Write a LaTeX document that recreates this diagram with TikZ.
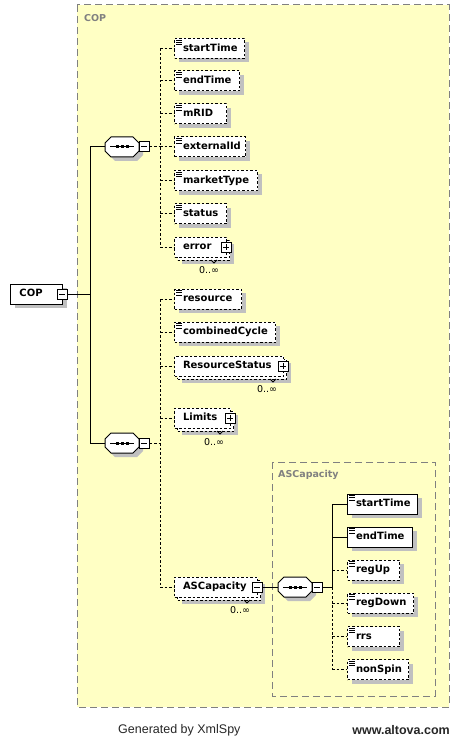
\documentclass[tikz,border=0pt]{standalone}
\usepackage{fontspec}
\newfontfamily\dv{DejaVu Sans}
\newfontfamily\lib{Liberation Sans}
\usetikzlibrary{shadows,calc}
\definecolor{bgy}{RGB}{255,255,196}
\definecolor{shg}{RGB}{192,192,192}
\definecolor{dg}{RGB}{128,128,128}
\tikzset{
  dsh/.style={dash pattern=on 2.5pt off 2pt},
  conn/.style={line width=1pt},
  grpbox/.style={draw=dg, fill=bgy, line width=1pt, dash pattern=on 7pt off 4pt},
  grplabel/.style={text=dg, font=\dv\bfseries\fontsize{9.5}{11}\selectfont, anchor=west, inner sep=0pt},
  base/.style={draw=black, fill=white, line width=1pt, inner xsep=0pt, inner ysep=0pt,
    minimum height=20pt, anchor=west, align=left, text height=7.5pt, text depth=2pt,
    font=\dv\bfseries\fontsize{10}{11}\selectfont},
  sh4/.style={drop shadow={shadow xshift=4pt, shadow yshift=-4pt, fill=shg, opacity=1, draw=none}},
  icon/.style={path picture={
      \foreach \k in {1.5,3.75,6}
        \draw[solid, line width=.8pt] ([xshift=1.5pt,yshift=-\k pt]path picture bounding box.north west) -- ++(5.5pt,0pt);}},
  reqel/.style={base, solid, sh4, icon, text width=#1},
  optel/.style={base, dsh, sh4, icon, text width=#1},
  multiel/.style={base, dsh, text width=#1,
    drop shadow={shadow xshift=7pt, shadow yshift=-7pt, fill=shg, opacity=1, draw=none},
    copy shadow={shadow xshift=3pt, shadow yshift=-3pt, draw=black, fill=white}},
  pmbox/.style={draw=black, solid, fill=white, line width=1pt, minimum size=10pt, inner sep=0pt},
  minusbox/.style={pmbox, path picture={
      \draw[solid, line width=1pt] ([xshift=2pt]path picture bounding box.west) -- ([xshift=-2pt]path picture bounding box.east);}},
  plusbox/.style={pmbox, path picture={
      \draw[solid, line width=1pt] ([xshift=2pt]path picture bounding box.west) -- ([xshift=-2pt]path picture bounding box.east);
      \draw[solid, line width=1pt] ([yshift=-2pt]path picture bounding box.north) -- ([yshift=2pt]path picture bounding box.south);}},
  occ/.style={font=\dv\fontsize{9.5}{11}\selectfont, inner sep=0pt},
  seqhold/.style={minimum width=34pt, minimum height=20pt, inner sep=0pt},
}
\newcommand\seqq[3]{%
  \node[seqhold] (#1) at (#2,#3) {};
  \begin{scope}[shift={(#2,#3)}]
    \fill[shg] (-13,0) -- (-7,-6) -- (15,-6) -- (21,0) -- (21,8) -- (15,14) -- (-7,14) -- (-13,8) -- cycle;
    \draw[line width=1pt, fill=white] (-17,-4) -- (-11,-10) -- (11,-10) -- (17,-4) -- (17,4) -- (11,10) -- (-11,10) -- (-17,4) -- cycle;
    \draw[line width=1pt] (-12,0) -- (12,0);
    \fill (-6.5,-1.5) rectangle ++(3,3);
    \fill (-1.5,-1.5) rectangle ++(3,3);
    \fill (3.5,-1.5) rectangle ++(3,3);
  \end{scope}
  \node[minusbox] (#1m) at (#2+22,#3) {};
}
\newcommand\notch[2]{\draw[line width=.8pt] (#1-3,#2) -- (#1,#2+3) -- (#1+3,#2);}
\begin{document}
\begin{tikzpicture}[x=1pt, y=-1pt]
\useasboundingbox (0,0) rectangle (459,738);
% group boxes
\draw[grpbox] (77,5) rectangle (449,707);
\node[grplabel] (coplab) at (84,18) {COP};
\draw[grpbox] (272,462) rectangle (435,696);
\node[grplabel] (asclab) at (278,475) {ASCapacity};

% root
\node[base, solid, sh4, text width=52pt] (cop) at (10,294) {\hspace*{9pt}COP};
\node[minusbox] (copm) at (62,294) {};

% sequences
\seqq{s1}{122}{147}
\seqq{s2}{122}{443}
\seqq{s3}{295}{587}

\coordinate (tj) at (90,294);
\coordinate (v1) at (160,147);
\coordinate (v3) at (332,587);

% seq1 children
\node[optel=70pt] (st1) at (174,48.5) {\hspace*{8.5pt}startTime};
\node[optel=65pt] (et1) at (174,81) {\hspace*{8.5pt}endTime};
\node[optel=52pt] (mrid) at (174,114) {\hspace*{8.5pt}mRID};
\node[optel=71pt] (extid) at (174,147) {\hspace*{8.5pt}externalId};
\node[optel=83pt] (mkt) at (174,180.5) {\hspace*{8.5pt}marketType};
\node[optel=52pt] (stat) at (174,213.5) {\hspace*{8.5pt}status};
\node[multiel=52pt] (err) at (174,247) {\hspace*{8.5pt}error};
\node[plusbox] (errp) at ([xshift=-1pt]err.east) {};
\node[occ] (erro) at (209,270) {0..∞};
\notch{214}{260}

% seq2 children
\node[optel=67pt] (res) at (174,299) {\hspace*{8.5pt}resource};
\node[optel=101pt] (cc) at (174,332) {\hspace*{8.5pt}combinedCycle};
\node[multiel=109pt] (rs) at (174,366) {\hspace*{8.5pt}ResourceStatus};
\node[plusbox] (rsp) at ([xshift=-1pt]rs.east) {};
\node[occ] (rso) at (267,389) {0..∞};
\notch{273}{379}
\node[multiel=56pt] (lim) at (174,418) {\hspace*{8.5pt}Limits};
\node[plusbox] (limp) at ([xshift=-1pt]lim.east) {};
\node[occ] (limo) at (214,442) {0..∞};
\notch{220}{431}
\node[multiel=83pt] (asc) at (174,587) {\hspace*{8.5pt}ASCapacity};
\node[minusbox] (ascm) at ([xshift=-1pt]asc.east) {};
\node[occ] (asco) at (240,610) {0..∞};
\notch{247}{600}

% seq3 children
\node[reqel=70pt] (st2) at (347,504) {\hspace*{8.5pt}startTime};
\node[reqel=65pt] (et2) at (347,537) {\hspace*{8.5pt}endTime};
\node[optel=52pt] (ru) at (347,570) {\hspace*{8.5pt}regUp};
\node[optel=66pt] (rd) at (347,603) {\hspace*{8.5pt}regDown};
\node[optel=52pt] (rrs) at (347,636.5) {\hspace*{8.5pt}rrs};
\node[optel=61pt] (ns) at (347,669.5) {\hspace*{8.5pt}nonSpin};

% connectors: root
\draw[conn] (copm.east) -- (tj);
\draw[conn] (s1.west) -- (s1.west -| tj) -- (s2.west -| tj) -- (s2.west);

% seq1
\draw[conn, dsh] (s1m.east) -- (v1);
\draw[conn, dsh] (st1.west -| v1) -- (err.west -| v1);
\foreach \n in {st1,et1,mrid,extid,mkt,stat,err}
  \draw[conn, dsh] (\n.west -| v1) -- (\n.west);

% seq2
\draw[conn, dsh] (s2m.east) -- (s2m.east -| v1);
\draw[conn, dsh] (res.west -| v1) -- (asc.west -| v1);
\foreach \n in {res,cc,rs,lim,asc}
  \draw[conn, dsh] (\n.west -| v1) -- (\n.west);

% ASCapacity
\draw[conn] (ascm.east) -- (s3.west);
\draw[conn] (s3m.east) -- (v3);
\draw[conn] (v3) -- (st2.west -| v3);
\draw[conn, dsh] (v3) -- (ns.west -| v3);
\foreach \n in {st2,et2}
  \draw[conn] (\n.west -| v3) -- (\n.west);
\foreach \n in {ru,rd,rrs,ns}
  \draw[conn, dsh] (\n.west -| v3) -- (\n.west);

% footer
\node[anchor=west, inner sep=0pt, text=black!85, font=\lib\fontsize{12.5}{14}\selectfont] (gen) at (118,730) {Generated by XmlSpy};
\node[anchor=east, inner sep=0pt, text=black!85, font=\lib\bfseries\fontsize{12.5}{14}\selectfont] (alt) at (450,730) {www.altova.com};
\end{tikzpicture}
\end{document}
